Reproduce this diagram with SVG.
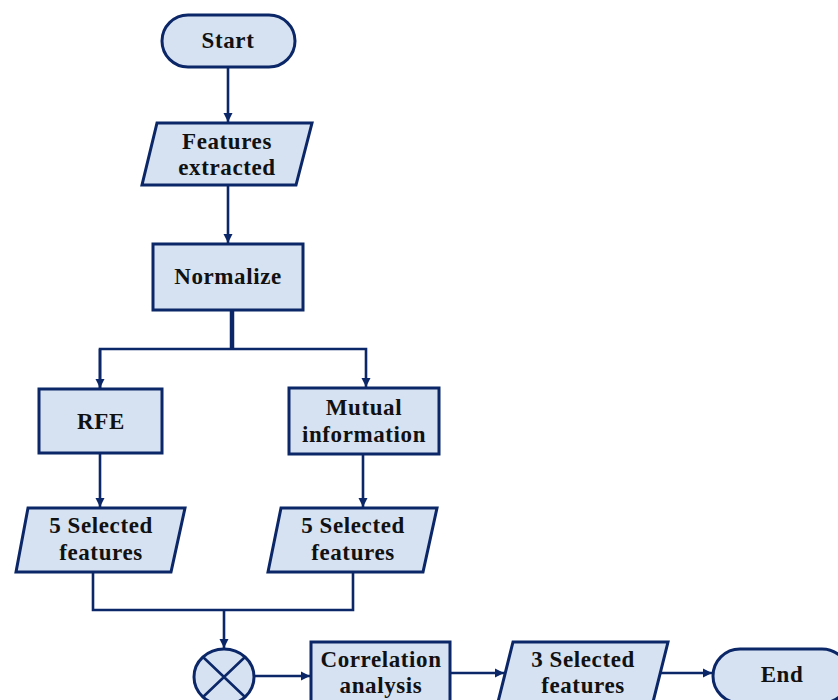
<svg xmlns="http://www.w3.org/2000/svg" width="838" height="700" viewBox="0 0 838 700">
<style>
.n{fill:#d6e2f2;stroke:#0b2767;stroke-width:3;stroke-linejoin:miter}
.t{font-family:"Liberation Serif","Times New Roman",serif;font-weight:bold;font-size:23px;letter-spacing:0.6px;fill:#111;text-anchor:middle}
.c{fill:none;stroke:#0b2767;stroke-width:2.6}
</style>
<defs>
<marker id="a" markerWidth="12" markerHeight="12" refX="10" refY="6" orient="auto" markerUnits="userSpaceOnUse">
<path d="M1,1.5 L10,6 L1,10.5 Z" fill="#0b2767"/>
</marker>
</defs>
<rect width="838" height="700" fill="#fff"/>
<g id="connectors">
<path class="c" d="M228,67 V122" marker-end="url(#a)"/>
<path class="c" d="M228,186 V243" marker-end="url(#a)"/>
<path class="c" d="M232,310 V349" style="stroke-width:4.5"/>
<path class="c" d="M100,388 V349 H366 V387" marker-end="url(#a)"/>
<path class="c" d="M100,349 V388" marker-end="url(#a)"/>
<path class="c" d="M100,453 V507" marker-end="url(#a)"/>
<path class="c" d="M363,454 V507" marker-end="url(#a)"/>
<path class="c" d="M93,572 V610 H353 V572"/>
<path class="c" d="M224,610 V648" marker-end="url(#a)"/>
<path class="c" d="M254,676 H310" marker-end="url(#a)"/>
<path class="c" d="M450,673 H504" marker-end="url(#a)"/>
<path class="c" d="M660,673 H712" marker-end="url(#a)"/>
</g>
<g id="start">
<rect class="n" x="162" y="15" width="133" height="52" rx="26"/>
<text class="t" x="228" y="48">Start</text>
</g>
<g id="features">
<path class="n" d="M157,123 H312 L296,185 H142 Z"/>
<text class="t" x="227" y="149">Features</text>
<text class="t" x="227" y="175">extracted</text>
</g>
<g id="normalize">
<rect class="n" x="153" y="244" width="150" height="66"/>
<text class="t" x="228" y="284">Normalize</text>
</g>
<g id="rfe">
<rect class="n" x="39" y="389" width="123" height="64"/>
<text class="t" x="101" y="429">RFE</text>
</g>
<g id="mutual">
<rect class="n" x="289" y="388" width="150" height="66"/>
<text class="t" x="364" y="415">Mutual</text>
<text class="t" x="364" y="442">information</text>
</g>
<g id="sel5a">
<path class="n" d="M28,508 H185 L171,572 H16 Z"/>
<text class="t" x="101" y="533">5 Selected</text>
<text class="t" x="101" y="560">features</text>
</g>
<g id="sel5b">
<path class="n" d="M281,508 H437 L423,572 H268 Z"/>
<text class="t" x="353" y="533">5 Selected</text>
<text class="t" x="353" y="560">features</text>
</g>
<g id="combine">
<ellipse class="n" cx="224" cy="677" rx="30" ry="28"/>
<path class="c" d="M203,657 L245,697 M245,657 L203,697"/>
</g>
<g id="correlation">
<rect class="n" x="311" y="642" width="139" height="66"/>
<text class="t" x="381" y="667">Correlation</text>
<text class="t" x="381" y="693">analysis</text>
</g>
<g id="sel3">
<path class="n" d="M513,642 H668 L652,706 H497 Z"/>
<text class="t" x="583" y="667">3 Selected</text>
<text class="t" x="583" y="693">features</text>
</g>
<g id="end">
<rect class="n" x="713" y="649" width="136" height="54" rx="27"/>
<text class="t" x="782" y="682">End</text>
</g>
</svg>
